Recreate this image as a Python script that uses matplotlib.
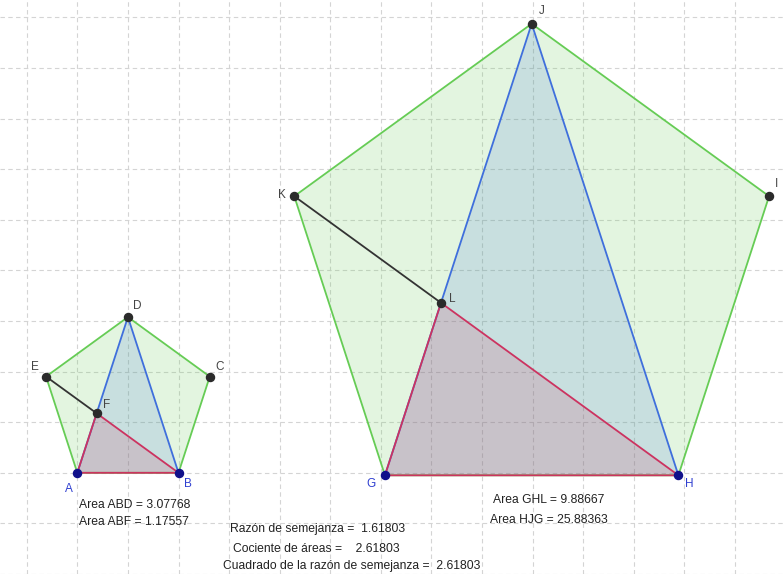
import matplotlib.pyplot as plt
import numpy as np

# points (grid units)
small_names = ["A", "B", "C", "D", "E"]
small_x = [1.0, 3.0, 3.618, 2.0, 0.382]
small_y = [0.0, 0.0, 1.902, 3.078, 1.902]
F = (1.382, 1.176)

big_names = ["G", "H", "I", "J", "K"]
big_x = [7.08, 12.88, 14.672, 9.98, 5.288]
big_y = [-0.05, -0.05, 5.466, 8.875, 5.466]
L = (8.188, 3.359)

area_small = ["Area ABD = 3.07768", "Area ABF = 1.17557"]
area_big = ["Area GHL = 9.88667", "Area HJG = 25.88363"]
ratio_texts = ["Razón de semejanza =  1.61803",
               "Cociente de áreas =    2.61803",
               "Cuadrado de la razón de semejanza =  2.61803"]

green = "#66cc55"
blue = "#3f6fdc"
red = "#cc3360"
dark = "#2b2b2b"
ptblue = "#10108a"

plt.rcParams['font.family'] = ['Liberation Sans', 'DejaVu Sans']
fig = plt.figure(figsize=(7.84, 5.74), dpi=100)
ax = fig.add_axes([0, 0, 1, 1])
ax.set_xlim(-0.528, 14.967)
ax.set_ylim(-2.0, 9.344)
ax.set_aspect("equal")
ax.axis("off")

# dashed grid
for gx in range(0, 15):
    ax.axvline(gx, color="#d4d4d4", lw=0.8, ls=(0, (4, 3)), zorder=0)
for gy in range(-2, 10):
    ax.axhline(gy, color="#d4d4d4", lw=0.8, ls=(0, (4, 3)), zorder=0)


def draw(px, py, p_in):
    # pentagon
    ax.fill(px, py, color=green, alpha=0.18, lw=0, zorder=1)
    ax.plot(px + [px[0]], py + [py[0]], color=green, lw=1.3, zorder=4)
    # triangle base - apex
    ax.fill([px[0], px[1], px[3]], [py[0], py[1], py[3]], color=blue, alpha=0.16, lw=0, zorder=2)
    ax.plot([px[0], px[3], px[1]], [py[0], py[3], py[1]], color=blue, lw=1.3, zorder=5)
    # inner triangle
    ax.fill([px[0], px[1], p_in[0]], [py[0], py[1], p_in[1]], color=red, alpha=0.17, lw=0, zorder=3)
    ax.plot([p_in[0], px[0], px[1], p_in[0]], [p_in[1], py[0], py[1], p_in[1]],
            color=red, lw=1.3, zorder=6)
    # segment from left vertex to inner point
    ax.plot([px[4], p_in[0]], [py[4], p_in[1]], color="#333333", lw=1.3, zorder=6)


draw(small_x, small_y, F)
draw(big_x, big_y, L)

# points
all_x = small_x + [F[0]] + big_x + [L[0]]
all_y = small_y + [F[1]] + big_y + [L[1]]
names = small_names + ["F"] + big_names + ["L"]
for n, x, y in zip(names, all_x, all_y):
    c = ptblue if n in "ABGH" else dark
    ax.plot(x, y, "o", color=c, ms=5.8, zorder=8)

# labels (pixel offsets)
offs = {"A": (-6, -12), "B": (7, -8), "C": (7, 7), "D": (7, 8), "E": (-8, 7),
        "F": (7, 6), "G": (-10, -6), "H": (8, -6), "I": (5, 9), "J": (7, 9),
        "K": (-9, 1), "L": (8, 3)}
for n, x, y in zip(names, all_x, all_y):
    c = "#2f3fd0" if n in "ABGH" else "#444444"
    ax.annotate(n, (x, y), xytext=offs[n], textcoords="offset points",
                ha="center", va="center", fontsize=8.5, color=c, zorder=9)

# texts
tx_kw = dict(fontsize=8.7, color="#222222", va="center", ha="left", zorder=9)
ax.text(1.03, -0.63, area_small[0], **tx_kw)
ax.text(1.03, -0.97, area_small[1], **tx_kw)
ax.text(9.22, -0.53, area_big[0], **tx_kw)
ax.text(9.16, -0.93, area_big[1], **tx_kw)
ax.text(4.02, -1.12, ratio_texts[0], **tx_kw)
ax.text(4.08, -1.51, ratio_texts[1], **tx_kw)
ax.text(3.88, -1.85, ratio_texts[2], **tx_kw)

fig.savefig("out.png", dpi=100)
